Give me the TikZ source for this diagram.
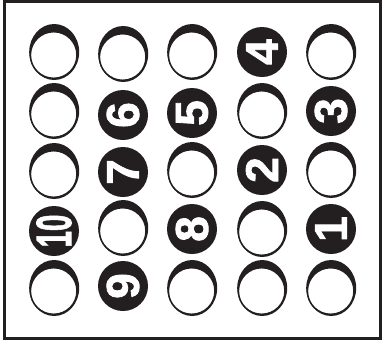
\documentclass[tikz,border=0pt]{standalone}
\usepackage{fontspec}
\usepackage{graphicx}
\setmainfont{Liberation Sans}
\newfontfamily\heavy{Liberation Sans}[BoldFeatures={FakeBold=1.8}]
\definecolor{ink}{HTML}{231F20}
\newcommand{\dg}[1]{{\heavy\bfseries\fontsize{46}{46}\selectfont #1}}
\begin{document}
\begin{tikzpicture}[x=1pt,y=-1pt,
  numdisc/.style={circle, fill=ink, minimum size=50pt, inner sep=0pt, text=white, rotate=90},
  hole/.pic={
    \fill[ink] (0.2,0) ellipse [x radius=25, y radius=28];
    \draw[ink, fill=white, line width=1.5pt] (-0.3,3) circle [radius=23.3];
  }]
\useasboundingbox (0,0) rectangle (383,341);
\draw[ink, line width=3pt] (4.5,1.5) rectangle (380,338.5);
% column x: 54,123,192,262,331 ; row y: 52,111,170,229,288
% row 1
\pic (h11) at (54,52) {hole};
\pic (h12) at (123,54) {hole};
\pic (h13) at (192,52) {hole};
\node[numdisc] (n4) at (262,52) {\dg{4}};
\pic (h15) at (331,52) {hole};
% row 2
\pic (h21) at (54,111) {hole};
\node[numdisc] (n6) at (123,115) {\dg{6}};
\node[numdisc] (n5) at (192,113) {\dg{5}};
\pic (h24) at (262,111) {hole};
\node[numdisc] (n3) at (331,111) {\dg{3}};
% row 3
\pic (h31) at (54,171) {hole};
\node[numdisc] (n7) at (123,172) {\dg{7}};
\pic (h33) at (192,170) {hole};
\node[numdisc] (n2) at (262,170) {\dg{2}};
\pic (h35) at (331,170) {hole};
% row 4
\node[numdisc] (n10) at (54,231) {\scalebox{0.64}[1.08]{\dg{10}}};
\pic (h42) at (123,228) {hole};
\node[numdisc] (n8) at (192,229) {\dg{8}};
\pic (h44) at (262,229) {hole};
\node[numdisc] (n1) at (331,229) {\dg{1}};
% row 5
\pic (h51) at (54,288) {hole};
\node[numdisc] (n9) at (123,286) {\dg{9}};
\pic (h53) at (192,288) {hole};
\pic (h54) at (262,288) {hole};
\pic (h55) at (331,288) {hole};
\end{tikzpicture}
\end{document}
